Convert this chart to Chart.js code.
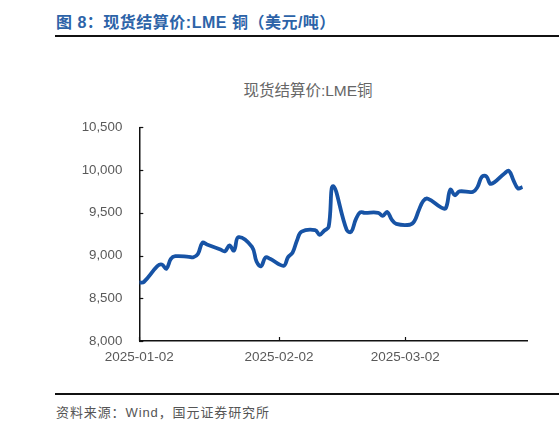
<!DOCTYPE html>
<html>
<head>
<meta charset="utf-8">
<script src="https://cdn.jsdelivr.net/npm/chart.js@4.4.1/dist/chart.umd.min.js"></script>
<style>
  body { margin: 0; width: 559px; height: 429px; background: #fff; position: relative; overflow: hidden;
         font-family: "Liberation Sans", "Noto Sans CJK SC", sans-serif; }
  #title { position: absolute; left: 56px; top: 9px; font-size: 16px; font-weight: bold; color: #2c63a8;
           white-space: nowrap; letter-spacing: 0.5px; }
  #topline { position: absolute; left: 55px; top: 35px; width: 504px; height: 2px; background: #111; }
  #ctitle { position: absolute; left: 158px; width: 300px; top: 81px; line-height: 19px; text-align: center;
            font-size: 15.5px; color: #666; white-space: nowrap; }
  #box { position: absolute; left: 55px; top: 76px; width: 504px; height: 296px; }
  #botline { position: absolute; left: 55px; top: 393px; width: 504px; height: 2px; background: #111; }
  #source { position: absolute; left: 56px; top: 402px; font-size: 13px; color: #555; white-space: nowrap;
            letter-spacing: 0.9px; }
</style>
</head>
<body>
<div id="title">图 8：现货结算价:LME 铜（美元/吨）</div>
<div id="topline"></div>
<div id="ctitle">现货结算价:LME铜</div>
<div id="box"><canvas id="chart"></canvas></div>
<div id="botline"></div>
<div id="source">资料来源：Wind，国元证券研究所</div>
<script>
// LME 铜现货结算价，交易日
var dates = [
  '2025-01-02','2025-01-03','2025-01-06','2025-01-07','2025-01-08','2025-01-09','2025-01-10',
  '2025-01-13','2025-01-14','2025-01-15','2025-01-16','2025-01-17',
  '2025-01-20','2025-01-21','2025-01-22','2025-01-23','2025-01-24',
  '2025-01-27','2025-01-28','2025-01-29','2025-01-30','2025-01-31',
  '2025-02-03','2025-02-04','2025-02-05','2025-02-06','2025-02-07',
  '2025-02-10','2025-02-11','2025-02-12','2025-02-13','2025-02-14',
  '2025-02-17','2025-02-18','2025-02-19','2025-02-20','2025-02-21',
  '2025-02-24','2025-02-25','2025-02-26','2025-02-27','2025-02-28',
  '2025-03-03','2025-03-04','2025-03-05','2025-03-06','2025-03-07',
  '2025-03-10','2025-03-11','2025-03-12','2025-03-13','2025-03-14',
  '2025-03-17','2025-03-18','2025-03-19','2025-03-20','2025-03-21',
  '2025-03-24','2025-03-25','2025-03-26','2025-03-27','2025-03-28'
];
var prices = [
  8684, 8690, 8875, 8895, 8845, 8960, 8992,
  8985, 8980, 9018, 9150, 9130,
  9070, 9050, 9118, 9058, 9215,
  9100, 8930, 8875, 8978, 8962,
  8880, 8982, 9035, 9180, 9280,
  9298, 9242, 9290, 9335, 9812,
  9300, 9278, 9420, 9505, 9500,
  9500, 9465, 9510, 9420, 9370,
  9360, 9400, 9530, 9640, 9665,
  9560, 9555, 9770, 9705, 9750,
  9745, 9800, 9922, 9925, 9838,
  9960, 9990, 9880, 9785, 9802
];
var yTicks = [8000, 8500, 9000, 9500, 10000, 10500];
var xTickDates = ['2025-01-02', '2025-02-02', '2025-03-02'];

var DAY = 86400000;
var t0 = Date.parse(dates[0]);
function dayOf(s) { return Math.round((Date.parse(s) - t0) / DAY); }

var points = dates.map(function (d, i) { return { x: dayOf(d), y: prices[i] }; });
var xTickVals = xTickDates.map(dayOf);
var lastDay = dayOf(dates[dates.length - 1]);

// 刻度线朝内
var innerTicks = {
  id: 'innerTicks',
  afterDraw: function (chart) {
    var ctx = chart.ctx, a = chart.chartArea;
    var ys = chart.scales.y, xs = chart.scales.x;
    ctx.save();
    ctx.strokeStyle = '#111';
    ctx.lineWidth = 1.2;
    yTicks.forEach(function (v) {
      var py = Math.round(ys.getPixelForValue(v)) + 0.5;
      ctx.beginPath(); ctx.moveTo(a.left, py); ctx.lineTo(a.left + 4, py); ctx.stroke();
    });
    xTickVals.forEach(function (v) {
      var px = Math.round(xs.getPixelForValue(v)) + 0.5;
      ctx.beginPath(); ctx.moveTo(px, a.bottom); ctx.lineTo(px, a.bottom - 4); ctx.stroke();
    });
    ctx.restore();
  }
};

new Chart(document.getElementById('chart'), {
  type: 'line',
  data: {
    datasets: [{
      label: '现货结算价:LME铜',
      data: points,
      borderColor: '#1753a5',
      borderWidth: 3.8,
      pointRadius: 0,
      tension: 0.4,
      fill: false
    }]
  },
  options: {
    responsive: true,
    maintainAspectRatio: false,
    animation: false,
    layout: { padding: { left: 0, right: 32, top: 51.3, bottom: 0 } },
    plugins: {
      legend: { display: false },
      tooltip: { enabled: false },
      title: { display: false }
    },
    scales: {
      x: {
        type: 'linear',
        min: 0,
        max: lastDay + 1,
        afterFit: function (s) { s.height = 31; },
        afterBuildTicks: function (s) { s.ticks = xTickVals.map(function (v) { return { value: v }; }); },
        grid: { display: false, drawTicks: false },
        border: { display: true, color: '#111', width: 1.5 },
        ticks: {
          padding: 8,
          color: '#595959',
          maxRotation: 0,
          font: { size: 13.5, family: '"Liberation Sans", sans-serif' },
          callback: function (v) { return xTickDates[xTickVals.indexOf(v)]; }
        }
      },
      y: {
        min: yTicks[0],
        max: yTicks[yTicks.length - 1],
        afterFit: function (s) { s.width = 84.3; },
        afterBuildTicks: function (s) { s.ticks = yTicks.map(function (v) { return { value: v }; }); },
        grid: { display: false, drawTicks: false },
        border: { display: true, color: '#111', width: 1.5 },
        ticks: {
          padding: 17,
          color: '#595959',
          font: { size: 13.3, family: '"Liberation Sans", sans-serif' },
          callback: function (v) { return v.toLocaleString('en-US'); }
        }
      }
    }
  },
  plugins: [innerTicks]
});
</script>
</body>
</html>
